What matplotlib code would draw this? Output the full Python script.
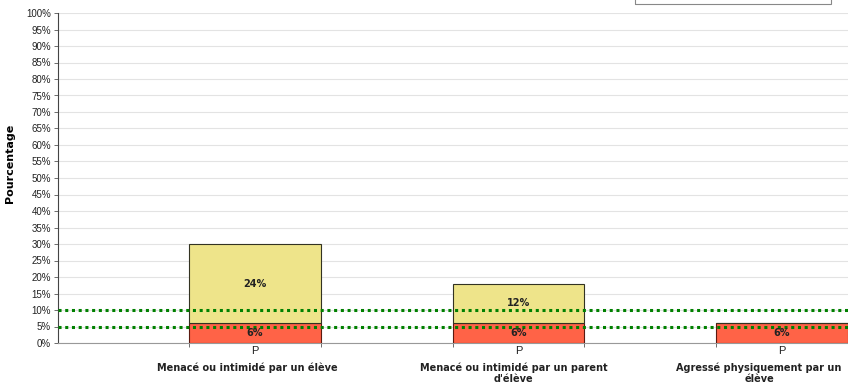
import matplotlib
matplotlib.use("Agg")
import matplotlib.pyplot as plt
from matplotlib.patches import Rectangle

plt.rcParams["font.family"] = ["Liberation Sans", "DejaVu Sans"]

categories = ["Menacé ou intimidé par un élève",
              "Menacé ou intimidé par un parent\nd'élève",
              "Agressé physiquement par un\nélève"]
sub_labels = ["P", "P", "P"]
red_vals = [6, 6, 6]
yellow_vals = [24, 12, 0]
thresholds = [5, 10]
yticks = list(range(0, 101, 5))

fig = plt.figure(figsize=(8.48, 3.9), dpi=100)
ax = fig.add_axes([58/848, 47/390, 1 - 58/848, (343-13)/390])

x = list(range(len(categories)))
w = 0.5
ax.bar(x, red_vals, width=w, color="#FF6347", edgecolor="#5a1a10", linewidth=0.8, zorder=3)
ax.bar(x, yellow_vals, width=w, bottom=red_vals, color="#EEE48A", edgecolor="#333322",
       linewidth=0.8, zorder=3)

for xi, r, yv in zip(x, red_vals, yellow_vals):
    ax.text(xi, r/2, f"{r}%", ha="center", va="center", fontsize=7, fontweight="bold",
            color="#222222", zorder=5, family="DejaVu Sans")
    if yv > 0:
        ax.text(xi, r + yv/2, f"{yv}%", ha="center", va="center", fontsize=7,
                fontweight="bold", color="#222222", zorder=5, family="DejaVu Sans")

for t in thresholds:
    ax.axhline(t, color="#008000", linestyle=(0, (1, 1.2)), linewidth=2.2, zorder=4)

ax.set_ylim(0, 100)
ax.set_xlim(-0.747, 2.234)
ax.set_yticks(yticks)
ax.set_yticklabels([f"{v}%" for v in yticks], fontsize=7, color="#222222")
ax.yaxis.grid(True, color="#e3e3e3", linewidth=0.8, zorder=0)
ax.set_axisbelow(True)
ax.tick_params(axis="y", length=3, width=0.6, color="#555555", pad=2)
ax.set_xticks(x)
ax.set_xticklabels(sub_labels, fontsize=8, color="#222222")
ax.tick_params(axis="x", length=0, pad=2)
ax.set_xticks([xi - w/2 for xi in x] + [xi + w/2 for xi in x], minor=True)
ax.tick_params(axis="x", which="minor", length=3, width=0.6, color="#555555")

# label x offsets in pixels (last label shifted left to stay inside the figure)
label_shift_px = [-8, -5, -23]
for xi, c, dx in zip(x, categories, label_shift_px):
    ax.annotate(c, xy=(xi, 0), xycoords=("data", "axes fraction"),
                xytext=(dx * 0.72, -14), textcoords="offset points",
                ha="center", va="top", fontsize=7, fontweight="bold", color="#222222",
                linespacing=1.15, family="DejaVu Sans", annotation_clip=False)

ax.set_ylabel("Pourcentage", fontsize=8, fontweight="bold", family="DejaVu Sans")
ax.yaxis.set_label_coords(-0.0544, 0.545)

for s in ["top", "right"]:
    ax.spines[s].set_visible(False)
ax.spines["left"].set_color("#444444")
ax.spines["left"].set_linewidth(0.8)
ax.spines["bottom"].set_color("#999999")
ax.spines["bottom"].set_linewidth(0.8)

fig.patches.append(Rectangle((635/848, 1 - 4/390), (831-635)/848, 10/390,
                             transform=fig.transFigure, fill=False, edgecolor="#888888",
                             linewidth=0.8))

fig.savefig("out.png", dpi=100)
